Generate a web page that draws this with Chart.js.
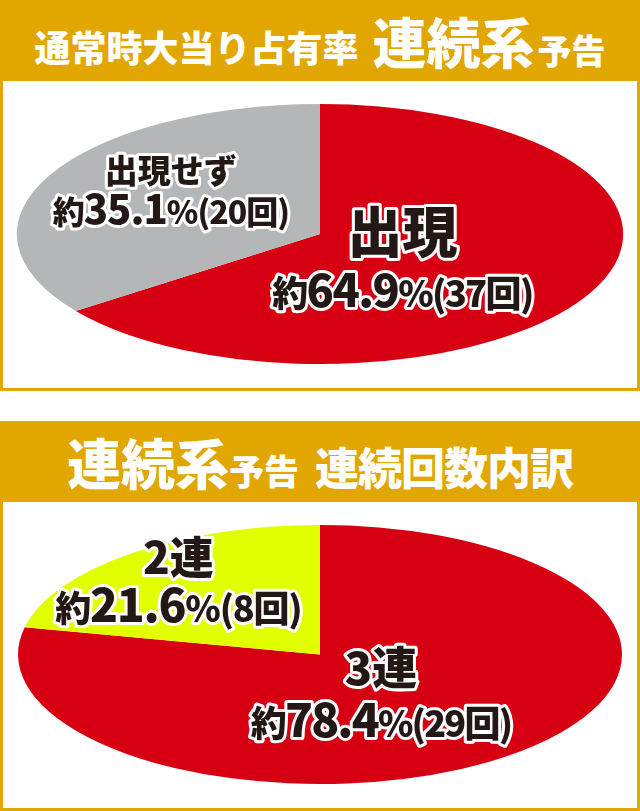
<!DOCTYPE html>
<html lang="ja">
<head>
<meta charset="utf-8">
<script src="https://cdn.jsdelivr.net/npm/chart.js@4.4.1/dist/chart.umd.min.js"></script>
<style>
  html, body { margin: 0; padding: 0; background: #fff; }
  body { width: 640px; height: 811px; position: relative; overflow: hidden;
         font-family: "Noto Sans CJK JP", sans-serif; }
  .head { position: absolute; left: 0; width: 640px; height: 81px; background: #E2A600; color: #fff; }
  .head .t { position: absolute; left: 0; right: 0; top: 0; height: 81px; line-height: 81px;
             font-size: 54px; font-weight: 900; text-align: center; white-space: nowrap; }
  .box { position: absolute; left: 0; width: 634px; border: 3px solid #E2A600; border-top: none; background: #fff; }
  .box canvas { display: block; }
</style>
</head>
<body>

<div class="head" style="top:0">
  <div class="t"><span style="font-size:36px;vertical-align:2px">通常時大当り占有率</span><span style="margin-left:14px">連続系</span><span style="font-size:34px;margin-left:3px">予告</span></div>
</div>
<div class="box" style="top:81px;height:307px">
  <canvas id="rateChart" width="634" height="307"></canvas>
</div>

<div class="head" style="top:421px">
  <div class="t"><span>連続系</span><span style="font-size:35px">予告</span><span style="font-size:44px;letter-spacing:-1px;margin-left:16px">連続回数内訳</span></div>
</div>
<div class="box" style="top:502px;height:306px">
  <canvas id="seqChart" width="634" height="306"></canvas>
</div>

<script>
// 通常時大当り占有率
var rateNames = [ '出現', '出現せず' ];
var rateCounts = [ 37, 20 ];
var ratePercents = [ '64.9', '35.1' ];

// 連続系予告 連続回数内訳
var seqNames = [ '3連', '2連' ];
var seqCounts = [ 29, 8 ];
var seqPercents = [ '78.4', '21.6' ];

var INK = '#231815';
var FONT = '"Noto Sans CJK JP", sans-serif';

// draw a line of mixed-size runs, centred on x, with a white outline
function drawRuns( ctx, runs, x, y, spacing )
{
        ctx.save();
        ctx.letterSpacing = ( spacing || 0 )+'px';
        var total = 0;
        runs.forEach( r =>
        {
                ctx.font = '900 '+r.size+'px '+FONT;
                r.w = ctx.measureText( r.text ).width;
                total += r.w;
        } );
        var maxSize = Math.max.apply( null, runs.map( r => r.size ) );
        var base = y+maxSize*0.36;
        ctx.textAlign = 'left';
        ctx.textBaseline = 'alphabetic';
        ctx.lineJoin = 'round';
        ctx.lineWidth = 6;
        ctx.strokeStyle = '#fff';
        ctx.fillStyle = INK;
        var cx = x-total/2;
        runs.forEach( r =>
        {
                ctx.font = '900 '+r.size+'px '+FONT;
                ctx.strokeText( r.text, cx, base );
                cx += r.w;
        } );
        cx = x-total/2;
        runs.forEach( r =>
        {
                ctx.font = '900 '+r.size+'px '+FONT;
                ctx.fillText( r.text, cx, base );
                cx += r.w;
        } );
        ctx.restore();
}

// stretches the pie into an ellipse and writes the slice labels
function ellipsePie( stretch, spots )
{
        return {
                id: 'ellipsePie',
                beforeDatasetsDraw( chart )
                {
                        var arc = chart.getDatasetMeta( 0 ).data[ 0 ];
                        var ctx = chart.ctx;
                        ctx.save();
                        ctx.translate( arc.x, arc.y );
                        ctx.scale( stretch, 1 );
                        ctx.translate( -arc.x, -arc.y );
                },
                afterDatasetsDraw( chart )
                {
                        var ctx = chart.ctx;
                        ctx.restore();
                        var ds = chart.data.datasets[ 0 ];
                        chart.getDatasetMeta( 0 ).data.forEach( ( arc, i ) =>
                        {
                                var s = spots[ i ];
                                var x = arc.x+s.nx*arc.outerRadius*stretch;
                                var y = arc.y+s.ny*arc.outerRadius;
                                drawRuns( ctx, [ { text: chart.data.labels[ i ], size: s.name } ], x, y-s.gap/2, 0 );
                                drawRuns( ctx, [
                                        { text: '約', size: s.small },
                                        { text: ds.percents[ i ], size: s.big },
                                        { text: '%', size: s.small },
                                        { text: '('+ds.data[ i ]+'回)', size: s.small }
                                ], x, y+s.gap/2, s.ls );
                        } );
                }
        };
}

function makePie( id, names, counts, percents, colors, spots )
{
        return new Chart( document.getElementById( id ), {
                type: 'pie',
                plugins: [ ellipsePie( 302/129.5, spots ) ],
                data: {
                        labels: names,
                        datasets: [ {
                                data: counts,
                                percents: percents,
                                backgroundColor: colors,
                                borderWidth: 0,
                                clip: false
                        } ]
                },
                options: {
                        responsive: false,
                        animation: false,
                        events: [],
                        layout: { padding: { top: 23, bottom: 306-23-259 } },
                        plugins: {
                                legend: { display: false },
                                tooltip: { enabled: false }
                        }
                }
        } );
}

var rateChart = makePie( 'rateChart', rateNames, rateCounts, ratePercents, [ '#D70012', '#B5B6B8' ], [
        { nx: 0.272, ny: 0.212, gap: 58, name: 55, big: 45, small: 36, ls: -1.6 },
        { nx: -0.492, ny: -0.336, gap: 38, name: 33, big: 40, small: 32, ls: -1 }
] );

var seqChart = makePie( 'seqChart', seqNames, seqCounts, seqPercents, [ '#D70012', '#E2FF00' ], [
        { nx: 0.202, ny: 0.309, gap: 51, name: 45, big: 46, small: 36, ls: -1.8 },
        { nx: -0.469, ny: -0.564, gap: 47, name: 44, big: 46, small: 36, ls: -1.2 }
] );
</script>
</body>
</html>
